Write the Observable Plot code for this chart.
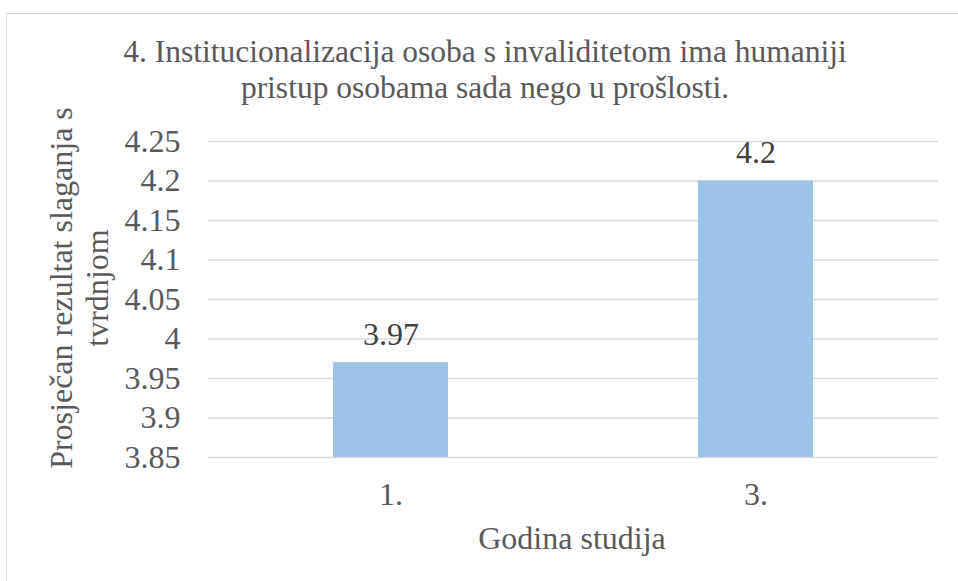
<!DOCTYPE html>
<html>
<head>
<meta charset="utf-8">
<script src="https://cdn.jsdelivr.net/npm/d3@7"></script>
<script src="https://cdn.jsdelivr.net/npm/@observablehq/plot@0.6"></script>
</head>
<body style="margin:0;padding:0;background:#fff;overflow:hidden;font-family:'Liberation Serif',serif">
<div id="wrap" style="position:relative;width:958px;height:581px;overflow:hidden;font-family:'Liberation Serif',serif">
  <div id="frame" style="position:absolute;left:6px;top:13px;width:1100px;height:1100px;border:1.5px solid #d9d9d9;box-sizing:border-box"></div>
  <div id="chart" style="position:absolute;left:0;top:0"></div>
  <div id="title" style="position:absolute;left:485px;top:34px;transform-origin:50% 0;transform:translateX(-50%) scale(2);white-space:nowrap;text-align:center;font-family:'Liberation Serif',serif;font-size:15.75px;line-height:18px;color:#595959"></div>
  <div id="ylabel" style="position:absolute;left:79px;top:288px;transform-origin:50% 50%;transform:translate(-50%,-50%) rotate(-90deg) scale(2);white-space:nowrap;text-align:center;font-family:'Liberation Serif',serif;font-size:16px;line-height:17.5px;color:#595959"></div>
  <div id="xlabel" style="position:absolute;left:572px;top:521px;transform-origin:50% 0;transform:translateX(-50%) scale(2);white-space:nowrap;font-family:'Liberation Serif',serif;font-size:16px;line-height:18px;color:#595959"></div>
</div>
<script>
// ---- data ----
const categories = ["1.", "3."];
const values = [3.97, 4.2];
const yTicks = [3.85, 3.9, 3.95, 4, 4.05, 4.1, 4.15, 4.2, 4.25];
const yDomain = [3.85, 4.25];
const titleLines = ["4. Institucionalizacija osoba s invaliditetom ima humaniji", "pristup osobama sada nego u prošlosti."];
const yLabelLines = ["Prosječan rezultat slaganja s", "tvrdnjom"];
const xLabel = "Godina studija";

const FONT = "'Liberation Serif', serif";
const data = categories.map((c, i) => ({cat: c, value: values[i]}));

document.getElementById("title").innerHTML = titleLines.join("<br>");
document.getElementById("ylabel").innerHTML = yLabelLines.join("<br>");
document.getElementById("xlabel").textContent = xLabel;

const chart = Plot.plot({
  width: 958,
  height: 581,
  marginLeft: 208,
  marginRight: 20,
  marginTop: 141,
  marginBottom: 124,
  style: {background: "transparent", overflow: "visible", fontFamily: FONT},
  x: {domain: categories, paddingInner: 0.685, paddingOuter: 0.3425, label: null},
  y: {domain: yDomain, label: null},
  marks: [
    Plot.gridY(yTicks, {stroke: "#d9d9d9", strokeOpacity: 1, strokeWidth: 1.5}),
    Plot.barY(data, {x: "cat", y1: yDomain[0], y2: "value", fill: "#9dc3e6"}),
    Plot.text(data, {x: "cat", y: "value", text: d => String(d.value), lineAnchor: "bottom", dy: -18, fontSize: 16, fill: "#404040", fontFamily: FONT}),
    Plot.axisY(yTicks, {tickSize: 0, tickPadding: 28, fontSize: 16, color: "#595959", tickFormat: d => String(d), label: null, fontFamily: FONT}),
    Plot.axisX({tickSize: 0, tickPadding: 25, fontSize: 16, color: "#595959", label: null, fontFamily: FONT})
  ]
});

// render text at 16px and scale each label ×2 (=32px) around its anchor
chart.querySelectorAll("text").forEach(t => {
  const tr = t.getAttribute("transform") || "";
  let pre = "";
  const x = t.getAttribute("x"), y = t.getAttribute("y");
  if (x && !/em$/.test(x)) { pre += ` translate(${x},0)`; t.removeAttribute("x"); }
  if (y && !/em$/.test(y)) { pre += ` translate(0,${y})`; t.removeAttribute("y"); }
  ["dx", "dy"].forEach(a => {
    const v = t.getAttribute(a);
    if (v && !/em$/.test(v) && !isNaN(+v)) t.setAttribute(a, String(+v / 2));
  });
  t.setAttribute("transform", `${tr}${pre} scale(2)`);
});
document.getElementById("chart").appendChild(chart);
</script>
</body>
</html>
